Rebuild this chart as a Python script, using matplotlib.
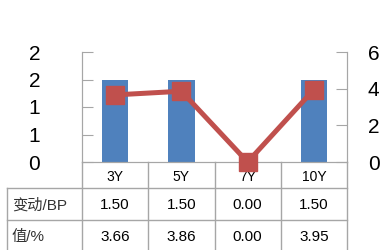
import matplotlib
matplotlib.use("Agg")
import matplotlib.pyplot as plt
from matplotlib.lines import Line2D

tenors = ["3Y", "5Y", "7Y", "10Y"]
change_bp = [1.50, 1.50, 0.00, 1.50]
yield_pct = [3.66, 3.86, 0.00, 3.95]
left_ticks = [0, 0.5, 1.0, 1.5, 2.0]
left_labels = ["0", "1", "1", "2", "2"]
right_ticks = [0, 2, 4, 6]
row_labels = ["变动/BP", "值/%"]

BLUE = "#4F81BD"
RED = "#C0504D"
GRID = "#A6A6A6"
FONT = ["Liberation Sans", "Noto Sans CJK SC"]

W, H = 385, 250
fig = plt.figure(figsize=(W / 100, H / 100), dpi=100)

# plot area in pixels
x0, x1, ytop, ybot = 82, 347, 52, 162


def fx(px):
    return px / W


def fy(py):
    return 1 - py / H


# table layer (pixel coordinates)
tab = fig.add_axes([0, 0, 1, 1], zorder=1)
tab.set_xlim(0, W)
tab.set_ylim(H, 0)
tab.axis("off")

n = len(tenors)
cw = (x1 - x0) / n
rows = [(162, 188), (188, 220), (220, 252)]
lk = dict(color=GRID, lw=1)
for y in (188, 220):
    tab.plot([7, x1], [y, y], **lk)
tab.plot([7, 7], [188, 252], **lk)
for i in range(n + 1):
    xx = x0 + i * cw
    tab.plot([xx, xx], [162, 252], **lk)

for i, t in enumerate(tenors):
    cx = x0 + (i + 0.5) * cw
    tab.text(cx, 177, t, ha="center", va="center", fontsize=10, family=FONT)
    tab.text(cx, 205, f"{change_bp[i]:.2f}", ha="center", va="center",
             fontsize=11, family=FONT)
    tab.text(cx, 237, f"{yield_pct[i]:.2f}", ha="center", va="center",
             fontsize=11, family=FONT)
for j, lab in enumerate(row_labels):
    yc = (rows[j + 1][0] + rows[j + 1][1]) / 2 + 1
    tab.text(12, yc, lab, ha="left", va="center", fontsize=11, family=FONT,
             color="#333333")

# chart
ax = fig.add_axes([fx(x0), fy(ybot), fx(x1 - x0), (ybot - ytop) / H], zorder=2)
ax.patch.set_visible(False)
xs = list(range(n))
ax.bar(xs, change_bp, width=0.4, color=BLUE)
ax.set_xlim(-0.5, n - 0.5)
ax.set_ylim(0, 2)
ax.set_yticks(left_ticks)
ax.set_yticklabels(left_labels)
ax.set_xticks([])
ax.tick_params(axis="y", direction="in", length=8, color=GRID, pad=30,
               labelsize=15)
for lab in ax.get_yticklabels():
    lab.set_family(FONT)
for s in ("top",):
    ax.spines[s].set_visible(False)
for s in ("left", "right", "bottom"):
    ax.spines[s].set_color(GRID)

ax2 = ax.twinx()
ax2.plot(xs, yield_pct, color=RED, lw=3.6, marker="s", markersize=13.5,
         clip_on=False, zorder=5)
ax2.set_ylim(0, 6)
ax2.set_yticks(right_ticks)
ax2.tick_params(axis="y", direction="in", length=8, color=GRID, pad=15,
                labelsize=15)
for lab in ax2.get_yticklabels():
    lab.set_family(FONT)
ax2.spines["top"].set_visible(False)
for s in ("left", "right", "bottom"):
    ax2.spines[s].set_color(GRID)

fig.savefig("out.png", dpi=100)
